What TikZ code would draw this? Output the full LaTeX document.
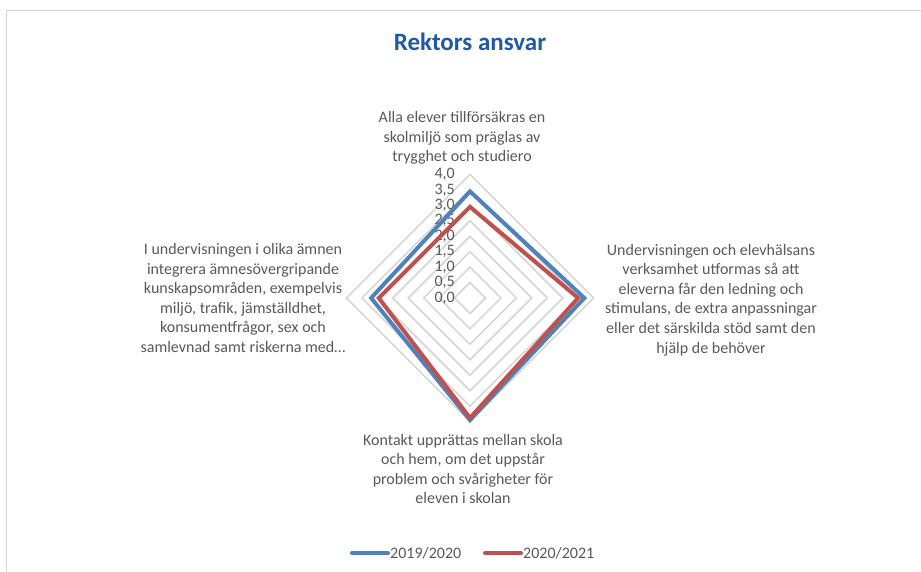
\documentclass[tikz,border=0pt]{standalone}
\usepackage{fontspec}
\setmainfont{Carlito}
\usetikzlibrary{positioning}

\definecolor{serieA}{HTML}{4F81BD}
\definecolor{serieB}{HTML}{C0504D}
\definecolor{gridgray}{HTML}{D4D4D4}
\definecolor{textgray}{HTML}{595959}
\definecolor{titleblue}{HTML}{1F5AA6}
\newcommand{\ustep}{30.9}

\tikzset{
  axislabel/.style={align=center,text=textgray,font=\fontsize{16}{19.6}\selectfont,inner sep=0pt},
  ticklabel/.style={anchor=east,text=textgray,font=\fontsize{16}{16}\selectfont,inner sep=0pt},
  ring/.style={gridgray,line width=1.5pt},
  serie/.style={line width=4pt,line join=miter}
}

\begin{document}
\begin{tikzpicture}[x=1pt,y=-1pt]
  \useasboundingbox (0,0) rectangle (921,572);
  \draw[gridgray,line width=1.5pt] (6.5,600) -- (6.5,10.5) -- (950,10.5);
  \node[text=titleblue,font=\fontsize{25}{28}\selectfont\bfseries] (title) at (470,42) {Rektors ansvar};

  \coordinate (O) at (470,298);
  % web
  \foreach \r in {1,...,8}
    \draw[ring,shift={(O)}] (0,-\r*\ustep/2) -- (\r*\ustep/2,0) -- (0,\r*\ustep/2) -- (-\r*\ustep/2,0) -- cycle;
  \foreach \v/\t in {0/0,1/0,2/0,3/0,4/0,0/5,1/5,2/5,3/5}
    \node[ticklabel] (t\v\t) at ([xshift=-15pt,yshift=\v*\ustep+\t*\ustep/10]O) {\v,\t};

  % data
  \draw[serie,serieA,shift={(O)}] (0,-3.45*\ustep) -- (3.7*\ustep,0) -- (0,3.95*\ustep) -- (-3.2*\ustep,0) -- cycle;
  \draw[serie,serieB,shift={(O)}] (0,-2.95*\ustep) -- (3.5*\ustep,0) -- (0,3.88*\ustep) -- (-2.95*\ustep,0) -- cycle;

  \node[axislabel] (top) at (462,138) {Alla elever tillförsäkras en\\skolmiljö som präglas av\\trygghet och studiero};
  \node[axislabel] (right) at (711,300) {Undervisningen och elevhälsans\\verksamhet utformas så att\\eleverna får den ledning och\\stimulans, de extra anpassningar\\eller det särskilda stöd samt den\\hjälp de behöver};
  \node[axislabel] (bottom) at (463,469) {Kontakt upprättas mellan skola\\och hem, om det uppstår\\problem och svårigheter för\\eleven i skolan};
  \node[axislabel] (left) at (243,298) {I undervisningen i olika ämnen\\integrera ämnesövergripande\\kunskapsområden, exempelvis\\miljö, trafik, jämställdhet,\\konsumentfrågor, sex och\\samlevnad samt riskerna med\dots};

  % legend
  \node[ticklabel,anchor=west] (leg1) at (390,553) {2019/2020};
  \node[ticklabel,anchor=west] (leg2) at (523,553) {2020/2021};
  \draw[serieA,line width=4pt,line cap=round] ([xshift=-38pt]leg1.west) -- ([xshift=-2pt]leg1.west);
  \draw[serieB,line width=4pt,line cap=round] ([xshift=-38pt]leg2.west) -- ([xshift=-2pt]leg2.west);
\end{tikzpicture}
\end{document}
